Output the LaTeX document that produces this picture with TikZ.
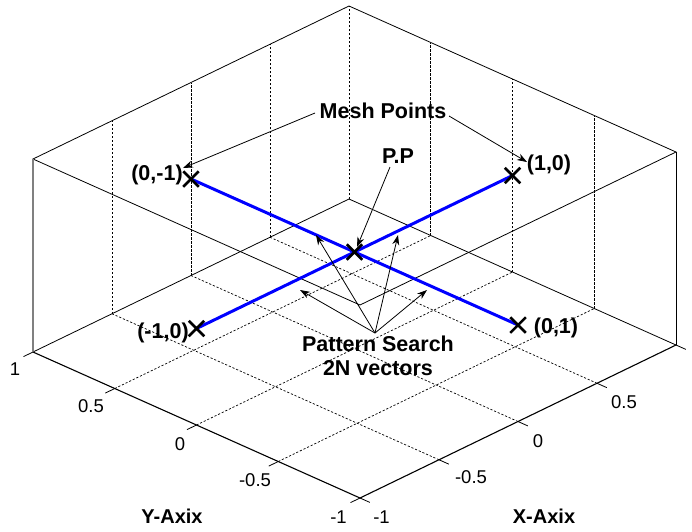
\documentclass[tikz,border=0pt]{standalone}
\usepackage{fontspec}
\setmainfont{Liberation Sans}
\usetikzlibrary{arrows.meta,shapes.misc}
\begin{document}
\begin{tikzpicture}[x=1pt,y=-1pt,
  boxline/.style={black,line width=0.8pt},
  axisline/.style={black,line width=1.1pt},
  zaxisline/.style={gray,line width=1.6pt},
  gridline/.style={black,line width=0.7pt,dash pattern=on 2.2pt off 1.8pt},
  tickline/.style={black,line width=0.8pt},
  ticklabel/.style={font=\fontsize{18.5}{20}\selectfont,inner sep=0pt},
  annot/.style={font=\fontsize{21.5}{24}\selectfont\bfseries,inner sep=1pt},
  axlabel/.style={font=\fontsize{20}{22}\selectfont\bfseries,inner sep=0pt},
  pathline/.style={blue,line width=3pt},
  meshmark/.style={cross out,draw=black,line width=2.5pt,minimum size=13pt,inner sep=0pt},
  leader/.style={black,line width=0.8pt,-{Stealth[length=10pt,width=7pt]}},
]
\useasboundingbox (0,0) rectangle (692,531);
\fill[white] (0,0) rectangle (692,531);
\begin{scope}[shift={(354.5pt,-348.5pt)},x={(158pt,76.5pt)},y={(-163.5pt,73pt)},z={(0pt,193pt)}]
  % box corners
  \coordinate (F0) at (-1,-1,0);
  \coordinate (R0) at (1,-1,0);
  \coordinate (L0) at (-1,1,0);
  \coordinate (B0) at (1,1,0);
  \coordinate (F1) at (-1,-1,1);
  \coordinate (R1) at (1,-1,1);
  \coordinate (L1) at (-1,1,1);
  \coordinate (B1) at (1,1,1);
  % grid
  \foreach \t in {-0.5,0,0.5}{
    \draw[gridline] (\t,-1,0) -- (\t,1,0);
    \draw[gridline] (-1,\t,0) -- (1,\t,0);
    \draw[gridline] (\t,1,0) -- (\t,1,1);
    \draw[gridline] (1,\t,0) -- (1,\t,1);
  }
  \draw[gridline] (B0) -- (B1);
  % ticks
  \foreach \t in {-1,-0.5,0,0.5,1}{
    \draw[tickline] (-1,\t,0) -- (-1.06,\t,0);
    \draw[tickline] (\t,-1,0) -- (\t,-1.06,0);
  }
  % box
  \draw[boxline] (L1) -- (B1) -- (R1) -- (F1) -- cycle;
  \draw[boxline] (L0) -- (B0) -- (R0);
  \draw[boxline] (R0) -- (R1);
  \draw[zaxisline] (L0) -- (L1);
  \draw[axisline] (L0) -- (F0) -- (R0);
  % data points
  \coordinate (pC) at (0,0,0.5);
  \coordinate (pN) at (0,1,0.5);
  \coordinate (pS) at (0,-1,0.5);
  \coordinate (pW) at (-1,0,0.5);
  \coordinate (pE) at (1,0,0.5);
  \draw[pathline] (pN) -- (pS);
  \draw[pathline] (pW) -- (pE);
  \node[meshmark] (mC) at (pC) {};
  \node[meshmark] (mN) at (pN) {};
  \node[meshmark] (mS) at (pS) {};
  \node[meshmark] (mW) at (pW) {};
  \node[meshmark] (mE) at (pE) {};
\end{scope}
% point labels
\node[annot] (lN) at (157,175) {(0,-1)};
\node[annot] (lW) at (163,333) {(-1,0)};
\node[annot] (lE) at (549,165) {(1,0)};
\node[annot] (lS) at (556,328) {(0,1)};
% annotations
\node[annot] (mesh) at (383,111) {Mesh Points};
\node[annot] (pp) at (398,156) {P.P};
\node[annot,align=center] (pattern) at (378,356) {Pattern Search\\2N vectors};
\coordinate (meshL) at (315,113);
\coordinate (meshR) at (449,116);
\coordinate (tipN) at (183,168);
\coordinate (tipE) at (527,162);
\coordinate (ppS) at (390,167);
\coordinate (tipC) at (357,247);
\coordinate (fan) at (375,333);
\coordinate (t1) at (316,235);
\coordinate (t2) at (398,235);
\coordinate (t3) at (300,290);
\coordinate (t4) at (427,290);
\draw[leader] (meshL) -- (tipN);
\draw[leader] (meshR) -- (tipE);
\draw[leader] (ppS) -- (tipC);
\foreach \t in {t1,t2,t3,t4}{ \draw[leader] (fan) -- (\t); }
% tick labels
\node[ticklabel] (y1) at (15,369) {1};
\node[ticklabel] (y2) at (91,406) {0.5};
\node[ticklabel] (y3) at (180,444) {0};
\node[ticklabel] (y4) at (255,480) {-0.5};
\node[ticklabel] (y5) at (338.5,517) {-1};
\node[ticklabel] (x1) at (381.5,517) {-1};
\node[ticklabel] (x2) at (471,477) {-0.5};
\node[ticklabel] (x3) at (538,441) {0};
\node[ticklabel] (x4) at (624,402) {0.5};
% axis labels
\node[axlabel] (ylab) at (172,516) {Y-Axix};
\node[axlabel] (xlab) at (544,516) {X-Axix};
\end{tikzpicture}
\end{document}
